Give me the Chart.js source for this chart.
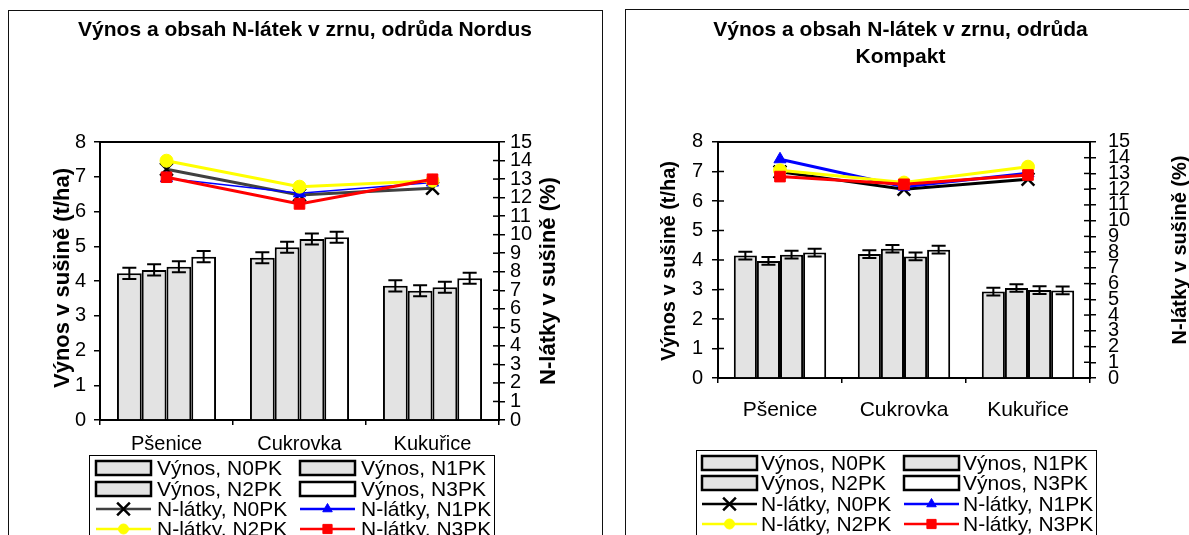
<!DOCTYPE html>
<html>
<head>
<meta charset="utf-8">
<script src="https://cdn.jsdelivr.net/npm/chart.js@4"></script>
<style>
body{margin:0;background:#fff;width:1189px;height:535px;overflow:hidden;position:relative}
.box{position:absolute;border:1px solid #111;box-sizing:border-box}
#box1{left:8px;top:10px;width:595px;height:600px}
#box2{left:625px;top:9px;width:600px;height:600px}
canvas{position:absolute;top:0}
#c1{left:0}
#c2{left:612px}
</style>
</head>
<body>
<div class="box" id="box1"></div>
<div class="box" id="box2"></div>
<canvas id="c1" width="610" height="535"></canvas>
<canvas id="c2" width="577" height="535"></canvas>
<script>
const kategorie = ['Pšenice', 'Cukrovka', 'Kukuřice'];
const varianty = ['N0PK', 'N1PK', 'N2PK', 'N3PK'];
const osaVynos = [0, 8];
const osaNlatky = [0, 15];

// odruda Nordus - vynos (t/ha)
const nordusVynosN0 = [4.22, 4.67, 3.86];
const nordusVynosN1 = [4.32, 4.97, 3.72];
const nordusVynosN2 = [4.41, 5.21, 3.82];
const nordusVynosN3 = [4.70, 5.26, 4.08];
const nordusChybaN0 = [0.16, 0.16, 0.16];
const nordusChybaN1 = [0.16, 0.16, 0.16];
const nordusChybaN2 = [0.16, 0.16, 0.16];
const nordusChybaN3 = [0.16, 0.16, 0.16];
// odruda Nordus - N-latky (%)
const nordusNlatkyN0 = [13.53, 12.14, 12.50];
const nordusNlatkyN1 = [13.05, 12.23, 12.81];
const nordusNlatkyN2 = [13.99, 12.59, 12.91];
const nordusNlatkyN3 = [13.10, 11.66, 12.99];

// odruda Kompakt - vynos (t/ha)
const kompaktVynosN0 = [4.15, 4.20, 2.93];
const kompaktVynosN1 = [3.97, 4.38, 3.05];
const kompaktVynosN2 = [4.18, 4.12, 2.98];
const kompaktVynosN3 = [4.25, 4.35, 2.97];
const kompaktChybaN0 = [0.13, 0.13, 0.13];
const kompaktChybaN1 = [0.13, 0.13, 0.13];
const kompaktChybaN2 = [0.13, 0.13, 0.13];
const kompaktChybaN3 = [0.13, 0.13, 0.13];
// odruda Kompakt - N-latky (%)
const kompaktNlatkyN0 = [13.10, 12.00, 12.63];
const kompaktNlatkyN1 = [13.90, 12.16, 13.01];
const kompaktNlatkyN2 = [13.20, 12.42, 13.43];
const kompaktNlatkyN3 = [12.80, 12.31, 12.90];

const FONT = '"Liberation Sans", Arial, sans-serif';
Chart.defaults.font.family = FONT;
Chart.defaults.color = '#000';

const chybovky = {
    id: 'chybovky',
    afterDatasetsDraw(chart) {
        const ctx = chart.ctx;
        const y = chart.scales.y;
        ctx.save();
        ctx.strokeStyle = '#000';
        ctx.lineWidth = 2;
        chart.data.datasets.forEach((ds, i) => {
            if (!ds.chyby) return;
            chart.getDatasetMeta(i).data.forEach((bar, j) => {
                const y1 = y.getPixelForValue(ds.data[j] - ds.chyby[j]);
                const y2 = y.getPixelForValue(ds.data[j] + ds.chyby[j]);
                ctx.beginPath();
                ctx.moveTo(bar.x, y1); ctx.lineTo(bar.x, y2);
                ctx.moveTo(bar.x - 7, y1); ctx.lineTo(bar.x + 7, y1);
                ctx.moveTo(bar.x - 7, y2); ctx.lineTo(bar.x + 7, y2);
                ctx.stroke();
            });
        });
        ctx.restore();
    }
};

const ram = {
    id: 'ram',
    beforeDatasetsDraw(chart, args, o) {
        const ctx = chart.ctx, a = chart.chartArea;
        ctx.save();
        ctx.strokeStyle = '#000';
        ctx.lineWidth = 2;
        ctx.strokeRect(a.left, a.top, a.right - a.left, a.bottom - a.top);
        ctx.lineWidth = 1.5;
        (o.vnitrni || []).forEach(id => {
            const s = chart.scales[id];
            const x0 = s.position === 'left' ? s.right : s.left;
            const smer = s.position === 'left' ? 1 : -1;
            s.ticks.forEach(t => {
                const yy = s.getPixelForValue(t.value);
                ctx.beginPath(); ctx.moveTo(x0, yy); ctx.lineTo(x0 + smer * 6, yy); ctx.stroke();
            });
        });
        ctx.restore();
    }
};

const popisyOs = {
    id: 'popisyOs',
    afterDraw(chart, args, o) {
        const ctx = chart.ctx;
        ctx.save();
        ctx.font = 'bold ' + o.velikost + 'px ' + FONT;
        ctx.fillStyle = '#000';
        ctx.textAlign = 'center';
        ctx.textBaseline = 'middle';
        o.popisy.forEach(p => {
            ctx.save();
            ctx.translate(p.x, p.y);
            ctx.rotate(-Math.PI / 2);
            ctx.fillText(p.text, 0, 0);
            ctx.restore();
        });
        ctx.restore();
    }
};

function znacka(ctx, styl, r, bw, x, y) {
    if (Chart.helpers && Chart.helpers.drawPoint) {
        Chart.helpers.drawPoint(ctx, {pointStyle: styl, radius: r, rotation: 0, borderWidth: bw}, x, y);
    }
}

const legenda = {
    id: 'legenda',
    afterDraw(chart, args, o) {
        const ctx = chart.ctx;
        ctx.save();
        ctx.strokeStyle = '#000';
        ctx.lineWidth = 1;
        ctx.strokeRect(o.left + 0.5, o.top + 0.5, o.width, 200);
        ctx.font = o.pismo + 'px ' + FONT;
        ctx.textBaseline = 'middle';
        chart.data.datasets.forEach((ds, i) => {
            const x = o.sloupce[i % 2], y = o.radky[Math.floor(i / 2)];
            const w = o.sirka;
            if (ds.type === 'line') {
                ctx.strokeStyle = ds.borderColor;
                ctx.lineWidth = 2.5;
                ctx.beginPath(); ctx.moveTo(x, y); ctx.lineTo(x + w, y); ctx.stroke();
                ctx.fillStyle = ds.pointBackgroundColor;
                ctx.strokeStyle = ds.pointBorderColor;
                ctx.lineWidth = ds.pointBorderWidth;
                znacka(ctx, ds.pointStyle, ds.legendRadius, ds.pointBorderWidth, x + w / 2, y);
            } else {
                ctx.fillStyle = ds.backgroundColor;
                ctx.strokeStyle = '#000';
                ctx.lineWidth = 2.5;
                ctx.fillRect(x, y - 7, w, 14);
                ctx.strokeRect(x, y - 7, w, 14);
            }
            ctx.fillStyle = '#000';
            ctx.fillText(ds.label, x + w + o.mezera, y + 1);
        });
        ctx.restore();
    }
};

function vytvorGraf(id, nazev, vynos, chyby, nlatky, v) {
    const barvyVynos = ['#e3e3e3', '#e3e3e3', '#e3e3e3', '#ffffff'];
    const datasets = [];
    vynos.forEach((d, i) => {
        datasets.push({
            type: 'bar', label: 'Výnos, ' + varianty[i], data: d, chyby: chyby[i],
            backgroundColor: barvyVynos[i], borderColor: '#000', borderWidth: 2,
            yAxisID: 'y', order: 10 + i,
            categoryPercentage: 0.745, barPercentage: 1.0
        });
    });
    const car = [
        {barva: v.barvaN0, znacka: 'crossRot', r: 9, lr: 9, body: '#000', bw: 2.5, sirka: 3},
        {barva: '#0000ff', znacka: 'triangle', r: 7, lr: 5.5, body: '#0000ff', bw: 1, sirka: v.sirkaN1},
        {barva: '#ffff00', znacka: 'circle', r: 6.5, lr: 5, body: '#ffff00', bw: 1, sirka: 3},
        {barva: '#ff0000', znacka: 'rect', r: 7.5, lr: 6.5, body: '#ff0000', bw: 1, sirka: 3}
    ];
    nlatky.forEach((d, i) => {
        const c = car[i];
        datasets.push({
            type: 'line', label: 'N-látky, ' + varianty[i], data: d,
            borderColor: c.barva, borderWidth: c.sirka,
            pointStyle: c.znacka, pointRadius: c.r, legendRadius: c.lr,
            pointBackgroundColor: c.body, pointBorderColor: c.body, pointBorderWidth: c.bw,
            yAxisID: 'y2', order: 3 - i, tension: 0
        });
    });

    const osaY = (pozice, rozsah, sirka, padding) => ({
        position: pozice, min: rozsah[0], max: rozsah[1],
        afterFit: s => { s.width = sirka; },
        ticks: {stepSize: 1, autoSkip: false, font: {size: 20}, color: '#000', padding: padding},
        grid: {drawOnChartArea: false, tickLength: 6, color: '#000', lineWidth: 1.5},
        border: {display: true, color: '#000', width: 2}
    });

    return new Chart(document.getElementById(id), {
        type: 'bar',
        data: {labels: kategorie, datasets: datasets},
        plugins: [ram, chybovky, popisyOs, legenda],
        options: {
            responsive: false,
            animation: false,
            layout: {padding: 0},
            scales: {
                x: {
                    afterFit: s => { s.height = v.vyskaX; },
                    ticks: {font: {size: v.pismoX}, color: '#000', padding: v.paddingX, maxRotation: 0},
                    grid: {offset: true, drawOnChartArea: false, tickLength: 5, color: '#000', lineWidth: 1.5},
                    border: {display: true, color: '#000', width: 2}
                },
                y: osaY('left', osaVynos, v.sirkaY, v.padY),
                y2: osaY('right', osaNlatky, v.sirkaY2, v.padY2)
            },
            plugins: {
                legend: {display: false},
                tooltip: {enabled: false},
                title: {
                    display: true, text: nazev, color: '#000',
                    font: {size: 21, weight: 'bold', lineHeight: v.radek},
                    padding: {top: v.titulekNahore, bottom: v.titulekDole}
                },
                ram: {vnitrni: v.vnitrni},
                popisyOs: {popisy: v.popisy, velikost: v.pismoOs},
                legenda: v.legenda
            }
        }
    });
}

vytvorGraf('c1', 'Výnos a obsah N-látek v zrnu, odrůda Nordus',
    [nordusVynosN0, nordusVynosN1, nordusVynosN2, nordusVynosN3],
    [nordusChybaN0, nordusChybaN1, nordusChybaN2, nordusChybaN3],
    [nordusNlatkyN0, nordusNlatkyN1, nordusNlatkyN2, nordusNlatkyN3],
    {
        barvaN0: '#404040', sirkaN1: 1.5,
        sirkaY: 100, sirkaY2: 111, padY: 8, padY2: 5, vyskaX: 115, paddingX: 7, pismoX: 20,
        radek: 1.2, titulekNahore: 17.4, titulekDole: 99.4,
        vnitrni: ['y2'], pismoOs: 22,
        popisy: [
            {text: 'Výnos v sušině (t/ha)', x: 63, y: 278},
            {text: 'N-látky v sušině (%)', x: 549, y: 281}
        ],
        legenda: {left: 89, top: 455, width: 405, sloupce: [96, 300], radky: [468, 489, 509, 529], sirka: 55, mezera: 6, pismo: 21}
    });

vytvorGraf('c2', ['Výnos a obsah N-látek v zrnu, odrůda', 'Kompakt'],
    [kompaktVynosN0, kompaktVynosN1, kompaktVynosN2, kompaktVynosN3],
    [kompaktChybaN0, kompaktChybaN1, kompaktChybaN2, kompaktChybaN3],
    [kompaktNlatkyN0, kompaktNlatkyN1, kompaktNlatkyN2, kompaktNlatkyN3],
    {
        barvaN0: '#000000', sirkaN1: 3,
        sirkaY: 106, sirkaY2: 99, padY: 9, padY2: 12, vyskaX: 157, paddingX: 15, pismoX: 21,
        radek: 1.29, titulekNahore: 16.5, titulekDole: 71.3,
        vnitrni: ['y', 'y2'], pismoOs: 20,
        popisy: [
            {text: 'Výnos v sušině (t/ha)', x: 57, y: 261},
            {text: 'N-látky v sušině (%)', x: 568, y: 250}
        ],
        legenda: {left: 84, top: 450, width: 400, sloupce: [90, 292], radky: [463, 483, 504, 524], sirka: 55, mezera: 4, pismo: 21}
    });
</script>
</body>
</html>
